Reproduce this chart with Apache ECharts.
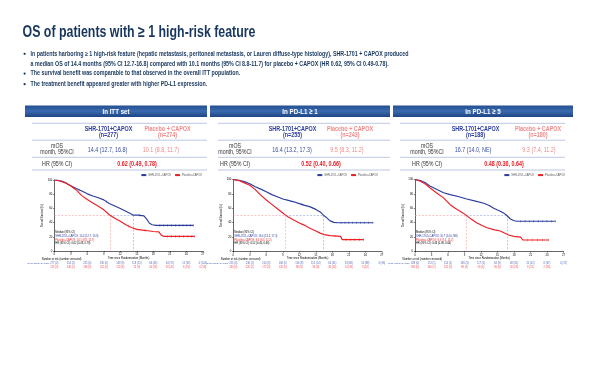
<!DOCTYPE html>
<html><head><meta charset="utf-8">
<script src="https://cdn.jsdelivr.net/npm/echarts@6/dist/echarts.min.js"></script>
<style>html,body{margin:0;padding:0;background:#fff}#c{width:600px;height:365px}</style>
</head><body><div id="c"></div>
<script>
// ---------------- DATA ----------------
const titleText = 'OS of patients with \u2265 1 high-risk feature';
const bulletLines = [
  ['In patients harboring \u2265 1 high-risk feature (hepatic metastasis, peritoneal metastasis, or Lauren diffuse-type histology), SHR-1701 + CAPOX produced',
   'a median OS of 14.4 months (95% CI 12.7-16.8) compared with 10.1 months (95% CI 8.8-11.7) for placebo + CAPOX (HR 0.62, 95% CI 0.49-0.78).'],
  ['The survival benefit was comparable to that observed in the overall ITT population.'],
  ['The treatment benefit appeared greater with higher PD-L1 expression.']
];
const panelTitles = ['In ITT set', 'In PD-L1 \u2265 1', 'In PD-L1 \u2265 5'];
const armHeaders = ['SHR-1701+CAPOX', 'Placebo + CAPOX'];
const armNames = ['SHR-1701+CAPOX', 'Placebo+CAPOX'];
const armN = [[277, 274], [255, 243], [188, 180]];
const mosText = [['14.4 (12.7, 16.8)', '10.1 (8.8, 11.7)'], ['16.4 (13.2, 17.3)', '9.5 (8.3, 11.2)'], ['16.7 (14.0, NE)', '9.3 (7.4, 11.2)']];
const hrText = ['0.62 (0.49, 0.78)', '0.52 (0.40, 0.66)', '0.48 (0.36, 0.64)'];
const medians = [[14.4, 10.1], [16.4, 9.5], [16.7, 9.3]];
const monthTicks = [0, 3, 6, 9, 12, 15, 18, 21, 24, 27];
const pctTicks = [0, 20, 40, 60, 80, 100];

// Kaplan-Meier curves [month, % surviving]
const p1Blue = [[0,100],[0.5,100],[1,99],[1.5,98],[2,96.5],[2.5,94],[3,92],[4,88],[5,84.5],[6,80.5],[7,77.5],[8,75],[9,72],[10,67],[11,63.5],[12,60],[13,56],[14,52],[14.4,50.5],[15.2,50.5],[16.3,49.5],[16.8,45],[17.3,39],[17.8,37],[18.5,36],[25.3,36]];
const p1Red = [[0,100],[0.5,99.5],[1,98.5],[2,96],[3,91.5],[4,86],[4.5,82],[5,78],[6,72.5],[7,67.5],[8,63],[9,58],[10,51],[10.1,50],[11,46],[12,42],[13,37],[14,33],[15,30.5],[16,29.5],[17,28.5],[18,27.5],[19,27],[19.5,22],[20,20.5],[25.5,20.5]];
const p2Blue = [[0,100],[1,99],[2,97],[3,94],[4,90],[4.9,87],[6,83],[7,79],[8,76],[9,73],[10,71],[11,69],[12,66.5],[13,64],[14,62],[15,58.5],[15.8,55],[16.4,50.5],[16.8,48],[17.6,42.5],[18.3,40.5],[19,40],[25.4,40]];
const p2Red = [[0,100],[1,98.5],[1.8,96],[3,92],[4,86],[4.9,79],[6,71.5],[7,65.5],[7.9,60],[9,53.5],[9.5,50.5],[10,48],[10.9,44],[12,39.5],[12.8,37],[14,32],[15,28.5],[15.8,25.5],[16.5,23.5],[17.6,22],[19.5,21],[19.8,16.5],[23.7,16.5]];
const p3Blue = [[0,100],[1,98.5],[2,95],[2.7,91],[4,86],[5.2,81.5],[6.4,79],[8,76],[9.4,73],[11,70],[12.5,67],[13.5,64],[14.3,60],[15.5,56],[16.2,53],[16.7,50],[17.3,45.5],[17.9,43],[18.5,42],[25.5,42]];
const p3Red = [[0,100],[1,97.5],[2,93],[2.7,88.5],[4,81],[5.2,74.5],[6.4,65],[7.3,60],[8.2,56],[9.3,50.5],[10.2,45],[11.2,40],[12.2,36],[13.1,33],[14.5,30],[15.5,28.5],[17,23],[18,21],[19.2,20],[19.6,16],[24.3,16]];

// censoring marks [month, %]
const p1BlueCens = [[4.5,86],[9.5,69.5],[15.5,50.3],[19.2,36],[19.9,36],[20.6,36],[21.3,36],[22,36],[22.7,36],[23.4,36],[24.1,36],[24.7,36],[25.3,36]];
const p1RedCens = [[13.5,35],[16.5,29],[20.6,20.5],[21.3,20.5],[22,20.5],[22.8,20.5],[23.5,20.5],[24.3,20.5],[25,20.5],[25.5,20.5]];
const p2BlueCens = [[12.5,65.2],[19.6,40],[20.3,40],[21,40],[21.7,40],[22.4,40],[23.1,40],[23.8,40],[24.6,40],[25.4,40]];
const p2RedCens = [[18.5,21.5],[20.5,16.5],[21.3,16.5],[22.1,16.5],[22.9,16.5],[23.7,16.5]];
const p3BlueCens = [[19.2,42],[20,42],[20.8,42],[21.6,42],[22.4,42],[23.2,42],[24,42],[24.8,42],[25.5,42]];
const p3RedCens = [[20.5,16],[21.4,16],[22.3,16],[23.2,16],[24.3,16]];

// number at risk (number censored) at monthTicks
const p1BlueRisk = [277,254,225,196,163,118,66,34,12,0];
const p1BlueRiskCens = [0,2,4,6,9,15,45,72,92,104];
const p1RedRisk = [274,248,196,152,110,72,40,20,6,0];
const p1RedRiskCens = [0,1,3,4,6,9,26,42,53,58];
const p2BlueRisk = [255,236,210,184,156,112,64,33,10,0];
const p2BlueRiskCens = [0,1,3,5,8,14,41,68,88,96];
const p2RedRisk = [243,220,172,128,88,56,30,14,3];
const p2RedRiskCens = [0,2,3,5,6,8,20,33,42];
const p3BlueRisk = [188,174,154,136,117,84,48,25,8,0];
const p3BlueRiskCens = [0,1,2,3,5,9,31,52,67,74];
const p3RedRisk = [180,160,120,88,58,36,20,9,2];
const p3RedRiskCens = [0,1,2,3,4,6,13,21,26];

// ---------------- LAYOUT / STYLE ----------------
const FONT = "'Liberation Sans',Arial,sans-serif";
const SMALL = "'Liberation Sans',Arial,sans-serif";
const BLUE = '#2b3c9e', RED = '#ec1f26', NAVY = '#17375e';
const PINK = '#f08a8a';
const curves = [[p1Blue,p1Red],[p2Blue,p2Red],[p3Blue,p3Red]];
const cens = [[p1BlueCens,p1RedCens],[p2BlueCens,p2RedCens],[p3BlueCens,p3RedCens]];
const risk = [[[p1BlueRisk,p1BlueRiskCens],[p1RedRisk,p1RedRiskCens]],[[p2BlueRisk,p2BlueRiskCens],[p2RedRisk,p2RedRiskCens]],[[p3BlueRisk,p3BlueRiskCens],[p3RedRisk,p3RedRiskCens]]];

const L = [
  {barX:25, barW:182, gl:54.3, gt:180, gh:71, h1:108.5, h2:167.5, v1:107.5, v2:161, hr:137, lab:57, lx0:32, lx1:207, legR:398},
  {barX:210, barW:180, gl:233.3, gt:179.5, gh:72, h1:292.5, h2:350, v1:292, v2:347, hr:321, lab:235, lx0:218, lx1:390, legR:222},
  {barX:393, barW:180, gl:415, gt:179.5, gh:72, h1:475.5, h2:538, v1:473, v2:539, hr:504, lab:427, lx0:400, lx1:565, legR:35}
];
const GW = 148.5;

const mctx = document.createElement('canvas').getContext('2d');
function textW(text, font) { mctx.font = font; return mctx.measureText(text).width; }
function fontStr(size, bold) { return (bold ? 'bold ' : '') + size + 'px ' + FONT; }
const NARROW = 233 / textW(titleText, fontStr(16, true));

function T(x, y, text, size, color, o) {
  o = o || {};
  const fam = o.family || FONT;
  const font = (o.bold ? 'bold ' : '') + size + 'px ' + fam;
  let sx = o.family ? 1 : NARROW;
  if (o.w) sx = o.w / textW(text, font);
  return {type:'text', x:x, y:y, scaleX:sx, silent:true, z:10,
    style:{text:text, fill:color, font:font, align:o.align || 'left', verticalAlign:'middle'}};
}

const graphics = [];
graphics.push(T(22.5, 32.7, titleText, 16, NAVY, {bold:true}));
const bulletY = [[53.8, 64.2], [73.6], [84.2]];
const bulletScale = 378 / textW(bulletLines[0][0], fontStr(6.4, true));
bulletLines.forEach((lines, i) => {
  graphics.push({type:'circle', silent:true, shape:{cx:24.6, cy:bulletY[i][0], r:1.1}, style:{fill:NAVY}});
  lines.forEach((ln, j) => {
    const t = T(30.5, bulletY[i][j], ln, 6.4, NAVY, {bold:true});
    t.scaleX = bulletScale;
    graphics.push(t);
  });
});

const grids = [], xAxes = [], yAxes = [], series = [], legends = [];
L.forEach((p, i) => {
  graphics.push({type:'rect', silent:true, shape:{x:p.barX, y:105.5, width:p.barW, height:11.5},
    style:{fill:new echarts.graphic.LinearGradient(0,0,0,1,[{offset:0,color:'#23508f'},{offset:0.5,color:'#3a6ab0'},{offset:1,color:'#1d4382'}])}});
  graphics.push(T(p.barX + p.barW/2, 111.3, panelTitles[i], 8, '#ffffff', {bold:true, align:'center'}));
  [123.3, 140.2, 157.3, 170].forEach(y => graphics.push({type:'line', silent:true,
    shape:{x1:p.lx0, y1:y, x2:p.lx1, y2:y}, style:{stroke:'#a9badc', lineWidth:0.8}}));
  graphics.push(T(p.h1, 129, armHeaders[0], 7, BLUE, {bold:true, align:'center'}));
  graphics.push(T(p.h1, 135.4, '(n=' + armN[i][0] + ')', 7, BLUE, {bold:true, align:'center'}));
  graphics.push(T(p.h2, 129, armHeaders[1], 7, PINK, {bold:true, align:'center'}));
  graphics.push(T(p.h2, 135.4, '(n=' + armN[i][1] + ')', 7, PINK, {bold:true, align:'center'}));
  graphics.push(T(p.lab, 146.4, 'mOS', 6.8, '#333', {align:'center'}));
  graphics.push(T(p.lab, 152.6, 'month, 95%CI', 6.8, '#333', {align:'center'}));
  graphics.push(T(p.v1, 149.8, mosText[i][0], 7, '#3b4fa6', {align:'center'}));
  graphics.push(T(p.v2, 149.8, mosText[i][1], 7, PINK, {align:'center'}));
  graphics.push(T(p.lab, 164, 'HR (95% CI)', 6.8, '#333', {align:'center'}));
  graphics.push(T(p.hr, 164, hrText[i], 7, RED, {bold:true, align:'center'}));
  graphics.push(T(p.gl + 1, 232.6, 'Median (95% CI)', 2.6, '#000', {family:SMALL}));
  graphics.push(T(p.gl + 1, 236.2, armNames[0] + ': ' + mosText[i][0], 2.6, BLUE, {family:SMALL}));
  graphics.push(T(p.gl + 1, 239.8, armNames[1] + ': ' + mosText[i][1], 2.6, RED, {family:SMALL}));
  graphics.push(T(p.gl + 1, 243.6, 'HR (95% CI): ' + hrText[i], 2.6, '#000', {family:SMALL}));
  graphics.push(T(p.gl - 12.5, 259.6, 'Number at risk (number censored)', 2.6, '#000', {family:SMALL}));

  const g = 2 * i, r = 2 * i + 1;
  grids.push({left:p.gl, top:p.gt, width:GW, height:p.gh});
  grids.push({left:p.gl, top:261.8, width:GW, height:7});
  xAxes.push({gridIndex:g, type:'value', min:0, max:27, interval:3,
    axisLine:{lineStyle:{color:'#000', width:0.6}}, axisTick:{length:1.2, lineStyle:{color:'#000', width:0.5}},
    axisLabel:{fontSize:2.8, margin:1.8, color:'#000', fontFamily:SMALL}, splitLine:{show:false},
    name:'Time since Randomization (Months)', nameLocation:'middle', nameGap:5.3,
    nameTextStyle:{fontSize:2.6, color:'#000', fontFamily:SMALL}});
  xAxes.push({gridIndex:r, type:'value', min:0, max:27, interval:3, show:false});
  yAxes.push({gridIndex:g, type:'value', min:0, max:100, interval:20,
    axisLine:{show:true, lineStyle:{color:'#000', width:0.6}}, axisTick:{show:true, length:1.2, lineStyle:{color:'#000', width:0.5}},
    axisLabel:{fontSize:2.8, margin:2, color:'#000', fontFamily:SMALL}, splitLine:{show:false},
    name:'Overall Survival (%)', nameLocation:'middle', nameGap:7.5, nameRotate:90,
    nameTextStyle:{fontSize:2.6, color:'#000', fontFamily:SMALL}});
  yAxes.push({gridIndex:r, type:'category', data:armNames, inverse:true,
    axisLine:{show:false}, axisTick:{show:false},
    axisLabel:{fontSize:2.5, margin:5, fontFamily:SMALL, color:(v) => (v === armNames[0] ? BLUE : RED)}});

  const cols = [BLUE, RED];
  const medR = medians[i][1], medB = medians[i][0];
  [0, 1].forEach(a => {
    series.push({type:'line', name:armNames[a], xAxisIndex:g, yAxisIndex:g, data:curves[i][a],
      symbol:'none', lineStyle:{color:cols[a], width:1.15}, itemStyle:{color:cols[a]}, z:5,
      markLine:{silent:true, symbol:'none', label:{show:false}, animation:false,
        lineStyle:{type:[2,1.5], color:a === 0 ? '#93a0de' : '#f3a0a0', width:0.6},
        data:a === 0
          ? [[{coord:[medR,50]},{coord:[medB,50]}],[{coord:[medB,50]},{coord:[medB,0]}]]
          : [[{coord:[0,50]},{coord:[medR,50]}],[{coord:[medR,50]},{coord:[medR,0]}]]}});
    series.push({type:'scatter', name:'cens' + i + a, xAxisIndex:g, yAxisIndex:g, data:cens[i][a],
      symbol:'rect', symbolSize:[0.5, 2.6], itemStyle:{color:cols[a]}, z:6});
    const cnt = risk[i][a][0], cc = risk[i][a][1];
    series.push({type:'scatter', name:'risk' + i + a, xAxisIndex:r, yAxisIndex:r,
      data:cnt.map((c, k) => [monthTicks[k], armNames[a], c, cc[k]]),
      symbolSize:0.01, itemStyle:{color:'rgba(0,0,0,0)'},
      label:{show:true, position:'inside', fontSize:2.6, fontFamily:SMALL, color:cols[a],
        formatter:q => q.value[2] + ' (' + q.value[3] + ')'}});
  });
  legends.push({right:p.legR, top:173.6, padding:0, itemGap:3, itemWidth:5, itemHeight:2,
    data:armNames, selectedMode:false, textStyle:{fontSize:2.6, fontFamily:SMALL, padding:[0,0,0,-3]}});
});

const chart = echarts.init(document.getElementById('c'), null, {renderer:'canvas', width:600, height:365});
chart.setOption({
  animation:false,
  backgroundColor:'#ffffff',
  grid:grids, xAxis:xAxes, yAxis:yAxes, series:series, legend:legends,
  graphic:graphics
});
</script></body></html>
